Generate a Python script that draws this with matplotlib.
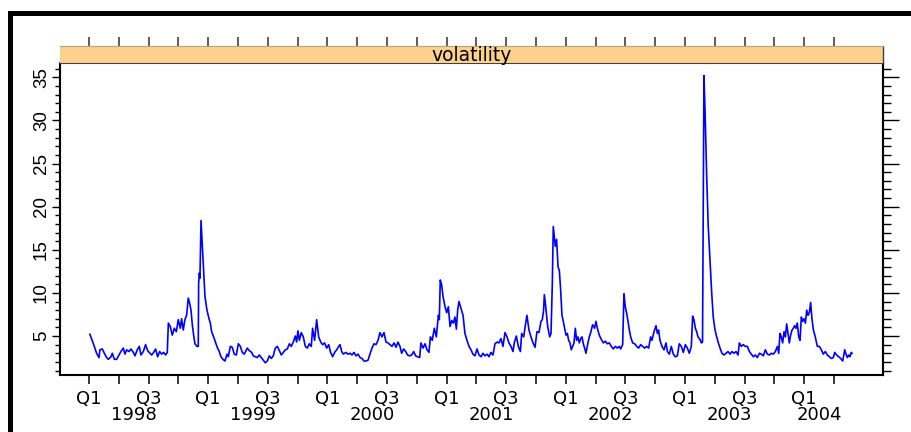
import numpy as np
import matplotlib.pyplot as plt
from matplotlib.patches import Rectangle

# volatility series (decimal year, value)
t = [
    1998.008, 1998.036, 1998.064, 1998.084, 1998.092, 1998.112, 1998.129, 1998.148, 1998.162, 1998.185,
    1998.196, 1998.213, 1998.232, 1998.252, 1998.268, 1998.288, 1998.302, 1998.316, 1998.336, 1998.352,
    1998.372, 1998.386, 1998.405, 1998.422, 1998.436, 1998.456, 1998.475, 1998.492, 1998.512, 1998.526,
    1998.543, 1998.559, 1998.576, 1998.593, 1998.610, 1998.626, 1998.643, 1998.657, 1998.666, 1998.682,
    1998.699, 1998.716, 1998.733, 1998.749, 1998.766, 1998.777, 1998.791, 1998.805, 1998.819, 1998.833,
    1998.845, 1998.856, 1998.867, 1998.878, 1998.889, 1998.906, 1998.917, 1998.920, 1998.926, 1998.931,
    1998.940, 1998.951, 1998.962, 1998.973, 1998.990,
    1999.007, 1999.018, 1999.029, 1999.046, 1999.063, 1999.079, 1999.093, 1999.107, 1999.124, 1999.141,
    1999.158, 1999.169, 1999.186, 1999.202, 1999.219, 1999.236, 1999.253, 1999.270, 1999.286, 1999.303,
    1999.328, 1999.345, 1999.365, 1999.379, 1999.395, 1999.412, 1999.429, 1999.446, 1999.463, 1999.479,
    1999.496, 1999.513, 1999.530, 1999.546, 1999.563, 1999.580, 1999.597, 1999.614, 1999.630, 1999.647,
    1999.664, 1999.681, 1999.697, 1999.714, 1999.731, 1999.742, 1999.753, 1999.765, 1999.781, 1999.798,
    1999.815, 1999.832, 1999.848, 1999.865, 1999.876, 1999.893, 1999.910, 1999.927, 1999.944, 1999.960,
    1999.977, 1999.994,
    2000.011, 2000.027, 2000.044, 2000.061, 2000.078, 2000.095, 2000.106, 2000.120, 2000.134, 2000.156,
    2000.173, 2000.190, 2000.206, 2000.223, 2000.240, 2000.257, 2000.274, 2000.290, 2000.307, 2000.324,
    2000.341, 2000.357, 2000.374, 2000.391, 2000.408, 2000.425, 2000.441, 2000.458, 2000.475, 2000.492,
    2000.508, 2000.525, 2000.542, 2000.559, 2000.576, 2000.592, 2000.609, 2000.623, 2000.640, 2000.657,
    2000.673, 2000.690, 2000.707, 2000.724, 2000.740, 2000.757, 2000.774, 2000.785, 2000.802, 2000.819,
    2000.836, 2000.852, 2000.864, 2000.880, 2000.897, 2000.914, 2000.931, 2000.939, 2000.947, 2000.959,
    2000.970, 2000.987,
    2001.001, 2001.015, 2001.029, 2001.043, 2001.057, 2001.070, 2001.082, 2001.093, 2001.104, 2001.121,
    2001.138, 2001.154, 2001.171, 2001.188, 2001.205, 2001.221, 2001.238, 2001.255, 2001.272, 2001.289,
    2001.305, 2001.322, 2001.339, 2001.356, 2001.372, 2001.389, 2001.406, 2001.423, 2001.440, 2001.456,
    2001.473, 2001.490, 2001.507, 2001.523, 2001.540, 2001.557, 2001.568, 2001.585, 2001.602, 2001.619,
    2001.630, 2001.647, 2001.658, 2001.674, 2001.691, 2001.708, 2001.725, 2001.742, 2001.758, 2001.775,
    2001.792, 2001.803, 2001.814, 2001.820, 2001.831, 2001.848, 2001.865, 2001.876, 2001.887, 2001.895,
    2001.912, 2001.923, 2001.935, 2001.946, 2001.957, 2001.968, 2001.979, 2001.990,
    2002.002, 2002.013, 2002.024, 2002.035, 2002.046, 2002.058, 2002.069, 2002.080, 2002.091, 2002.102,
    2002.113, 2002.125, 2002.136, 2002.147, 2002.158, 2002.169, 2002.186, 2002.197, 2002.209, 2002.225,
    2002.242, 2002.253, 2002.265, 2002.281, 2002.298, 2002.315, 2002.332, 2002.348, 2002.365, 2002.382,
    2002.399, 2002.416, 2002.432, 2002.449, 2002.460, 2002.477, 2002.488, 2002.499, 2002.511, 2002.522,
    2002.533, 2002.544, 2002.561, 2002.578, 2002.595, 2002.611, 2002.628, 2002.645, 2002.662, 2002.678,
    2002.695, 2002.712, 2002.723, 2002.740, 2002.757, 2002.768, 2002.779, 2002.790, 2002.807, 2002.824,
    2002.841, 2002.852, 2002.869, 2002.885, 2002.902, 2002.919, 2002.936, 2002.952, 2002.969, 2002.986,
    2003.003, 2003.020, 2003.036, 2003.053, 2003.064, 2003.075, 2003.087, 2003.098, 2003.109, 2003.126,
    2003.137, 2003.147, 2003.159, 2003.168, 2003.182, 2003.195, 2003.210, 2003.224, 2003.237, 2003.252,
    2003.266, 2003.280, 2003.294, 2003.310, 2003.327, 2003.344, 2003.361, 2003.378, 2003.394, 2003.411,
    2003.428, 2003.445, 2003.456, 2003.473, 2003.489, 2003.506, 2003.523, 2003.540, 2003.556, 2003.573,
    2003.590, 2003.607, 2003.624, 2003.640, 2003.657, 2003.674, 2003.691, 2003.708, 2003.724, 2003.741,
    2003.758, 2003.775, 2003.786, 2003.797, 2003.808, 2003.819, 2003.831, 2003.842, 2003.853, 2003.864,
    2003.875, 2003.886, 2003.898, 2003.909, 2003.920, 2003.931, 2003.942, 2003.954, 2003.965, 2003.976,
    2003.987, 2003.998,
    2004.010, 2004.021, 2004.032, 2004.043, 2004.054, 2004.065, 2004.077, 2004.093, 2004.110, 2004.127,
    2004.144, 2004.160, 2004.177, 2004.194, 2004.211, 2004.228, 2004.244, 2004.256, 2004.272, 2004.289,
    2004.306, 2004.323, 2004.340, 2004.351, 2004.362, 2004.373, 2004.384, 2004.395, 2004.401,
]
vol = [
    5.2, 4.15, 3.0, 2.5, 3.4, 3.5, 3.0, 2.5, 2.3, 2.6,
    3.0, 2.3, 2.3, 2.8, 3.2, 3.6, 2.9, 3.4, 3.2, 3.5,
    3.1, 2.7, 3.4, 3.8, 2.8, 3.2, 4.0, 3.3, 3.0, 2.8,
    3.1, 3.5, 2.6, 3.2, 2.9, 3.1, 2.8, 3.1, 6.5, 6.1,
    5.1, 5.9, 5.5, 6.9, 5.9, 7.0, 5.7, 6.9, 7.4, 9.4,
    8.8, 8.0, 6.3, 5.1, 4.1, 3.8, 3.8, 11.1, 12.3, 11.7,
    18.4, 15.4, 12.3, 9.6, 8.0,
    7.0, 6.5, 5.5, 4.9, 4.2, 3.6, 3.2, 2.6, 2.3, 2.1,
    2.9, 2.6, 3.8, 3.7, 2.9, 2.8, 4.1, 3.8, 3.1, 2.9,
    3.6, 3.3, 3.1, 2.7, 2.6, 2.5, 2.8, 2.5, 2.2, 1.9,
    2.1, 2.7, 2.4, 2.7, 3.6, 3.8, 3.3, 2.8, 3.1, 3.4,
    3.5, 4.1, 3.8, 4.3, 5.0, 4.3, 5.6, 4.5, 5.4, 4.9,
    3.8, 3.6, 4.1, 3.8, 5.9, 4.5, 6.9, 4.9, 4.3, 4.0,
    4.2, 3.6,
    4.0, 3.1, 2.6, 3.1, 3.4, 3.8, 4.0, 3.2, 2.9, 3.1,
    2.9, 3.0, 2.8, 3.1, 2.7, 2.9, 2.5, 2.4, 2.1, 2.1,
    2.2, 2.9, 3.6, 4.1, 4.0, 4.5, 5.4, 4.9, 5.4, 4.3,
    4.2, 4.0, 3.8, 4.2, 3.7, 4.3, 3.8, 3.0, 3.5, 3.2,
    2.8, 2.7, 2.8, 3.2, 2.7, 2.6, 2.5, 4.2, 3.6, 4.1,
    3.4, 3.1, 4.9, 4.5, 5.9, 4.9, 7.4, 6.9, 11.5, 10.9,
    9.6, 8.4,
    7.7, 8.4, 6.1, 6.8, 6.5, 7.2, 5.8, 8.0, 9.0, 8.2,
    7.4, 5.3, 4.5, 3.8, 3.4, 2.9, 2.7, 3.5, 2.8, 2.6,
    3.0, 2.7, 2.9, 2.6, 3.1, 2.8, 4.1, 4.3, 4.2, 4.7,
    3.8, 5.4, 4.9, 4.2, 3.8, 3.2, 4.2, 5.0, 3.8, 3.2,
    5.3, 4.9, 6.0, 7.4, 5.7, 4.9, 4.2, 3.7, 5.5, 5.4,
    6.7, 6.9, 8.0, 9.8, 8.5, 6.1, 4.9, 5.3, 11.1, 17.7,
    15.4, 16.2, 13.0, 12.6, 10.3, 7.4, 6.7, 5.9,
    5.1, 5.3, 4.5, 4.2, 3.4, 3.8, 4.2, 5.9, 4.5, 4.9,
    4.2, 4.7, 4.9, 4.1, 3.6, 3.0, 4.2, 4.9, 5.4, 6.3,
    5.9, 6.7, 5.9, 5.1, 4.6, 4.2, 4.4, 4.1, 4.2, 3.8,
    3.5, 3.8, 3.6, 3.8, 3.5, 4.0, 9.9, 8.4, 7.6, 6.7,
    5.7, 4.9, 4.2, 4.1, 3.8, 3.6, 4.0, 3.8, 3.6, 3.8,
    3.6, 4.9, 4.5, 5.5, 6.2, 5.3, 5.7, 4.5, 3.8, 3.4,
    4.2, 3.2, 2.9, 3.8, 2.9, 2.6, 2.7, 4.1, 3.8, 3.1,
    4.0, 3.6, 3.0, 3.8, 7.3, 6.9, 5.9, 5.5, 4.9, 4.6,
    4.2, 4.3, 35.2, 31.2, 23.5, 17.7, 13.8, 10.0, 7.2, 5.7,
    4.9, 4.2, 3.6, 3.0, 2.8, 3.0, 3.2, 2.9, 3.2, 3.0,
    3.2, 2.8, 4.2, 3.8, 4.0, 3.8, 3.8, 3.2, 2.9, 2.6,
    2.8, 2.5, 3.0, 2.9, 2.7, 3.4, 2.9, 2.8, 3.0, 2.9,
    3.2, 3.8, 3.0, 5.3, 4.9, 4.2, 5.5, 4.9, 6.4, 5.3,
    4.2, 5.1, 5.7, 5.9, 6.2, 5.9, 6.5, 4.9, 4.5, 7.2,
    6.7, 7.0,
    6.5, 8.0, 7.4, 7.7, 8.9, 7.0, 5.7, 4.9, 3.8, 3.8,
    3.4, 2.9, 3.2, 2.8, 2.6, 2.4, 2.5, 3.1, 2.8, 2.6,
    2.4, 2.1, 3.4, 2.9, 2.5, 2.8, 2.6, 3.1, 3.0,
]

years = [1998, 1999, 2000, 2001, 2002, 2003, 2004]
quarter_names = ["Q1", "", "Q3", ""]
title = "volatility"

W, H = 912, 432
plt.rcParams['font.family'] = ['Liberation Sans', 'DejaVu Sans']
WIDE = ['DejaVu Sans']

fig = plt.figure(figsize=(W / 100, H / 100), dpi=100)

# thick black frame pieces on top and left
fig.add_artist(Rectangle((8 / W, (H - 16) / H), 1 - 8 / W, 5 / H,
                         transform=fig.transFigure, color="black", lw=0))
fig.add_artist(Rectangle((8 / W, 0), 5 / W, (H - 11) / H,
                         transform=fig.transFigure, color="black", lw=0))

ax = fig.add_axes([60 / W, (H - 375) / H, 823 / W, 312 / H])
strip = fig.add_axes([60 / W, (H - 63) / H, 823 / W, 17 / H])

xlim = (1997.757, 2004.661)
qticks = np.arange(1998, 2004.26, 0.25)
qlabels = [quarter_names[i % 4] for i in range(len(qticks))]

ax.plot(t, vol, color="blue", lw=1.2)
ax.set_xlim(*xlim)
ax.set_ylim(0.48, 36.66)

ax.set_xticks(qticks, labels=[""] * len(qticks))
ax.tick_params(axis="x", direction="out", length=6.5, width=1.1, color="black")
for x, lab in zip(qticks, qlabels):
    if lab:
        ax.annotate(lab, xy=(x, 0), xycoords=("data", "axes fraction"),
                    xytext=(0, -21), textcoords="offset points",
                    ha="center", va="baseline", fontsize=13, family=WIDE)
for yr in years:
    inside = qticks[(qticks >= yr) & (qticks < yr + 1)]
    ax.annotate(str(yr), xy=(inside.mean(), 0), xycoords=("data", "axes fraction"),
                xytext=(0, -32.5), textcoords="offset points",
                ha="center", va="baseline", fontsize=13, family=WIDE)

major = np.arange(5, 36, 5)
minor = np.arange(1, 37)
ax.set_yticks(major, labels=[str(v) for v in major], rotation=90, va="center", fontsize=13.5)
ax.set_yticks(minor, minor=True)
ax.tick_params(axis="y", which="major", direction="out", length=5.8, width=1.0, pad=1.5)
ax.tick_params(axis="y", which="minor", direction="out", length=3.6, width=1.0)

right = ax.secondary_yaxis("right")
right.set_yticks(major, labels=[""] * len(major))
right.set_yticks(minor, minor=True)
right.tick_params(axis="y", which="major", direction="out", length=11.5, width=1.0)
right.tick_params(axis="y", which="minor", direction="out", length=5.8, width=1.0)
right.spines["right"].set_linewidth(1.5)

for side in ["left", "bottom", "right"]:
    ax.spines[side].set_linewidth(1.5)
    ax.spines[side].set_color("black")
ax.spines["top"].set_linewidth(1.5)
ax.spines["top"].set_color("#404040")

# strip with title
strip.set_facecolor("#FCD18E")
strip.set_xlim(*xlim)
strip.set_yticks([])
strip.set_xticks(qticks, labels=[""] * len(qticks))
strip.tick_params(axis="x", top=True, bottom=False, direction="out",
                  length=6.5, width=1.1, color="#303030")
for side in ["left", "bottom"]:
    strip.spines[side].set_visible(False)
strip.spines["top"].set_color("#B8A07A")
strip.spines["top"].set_linewidth(0.8)
strip.spines["right"].set_color("#404040")
strip.spines["right"].set_linewidth(1.0)
strip.text(0.5, 0.45, title, transform=strip.transAxes, ha="center", va="center",
           fontsize=13.5, family=WIDE)

fig.savefig("out.png", dpi=100)
